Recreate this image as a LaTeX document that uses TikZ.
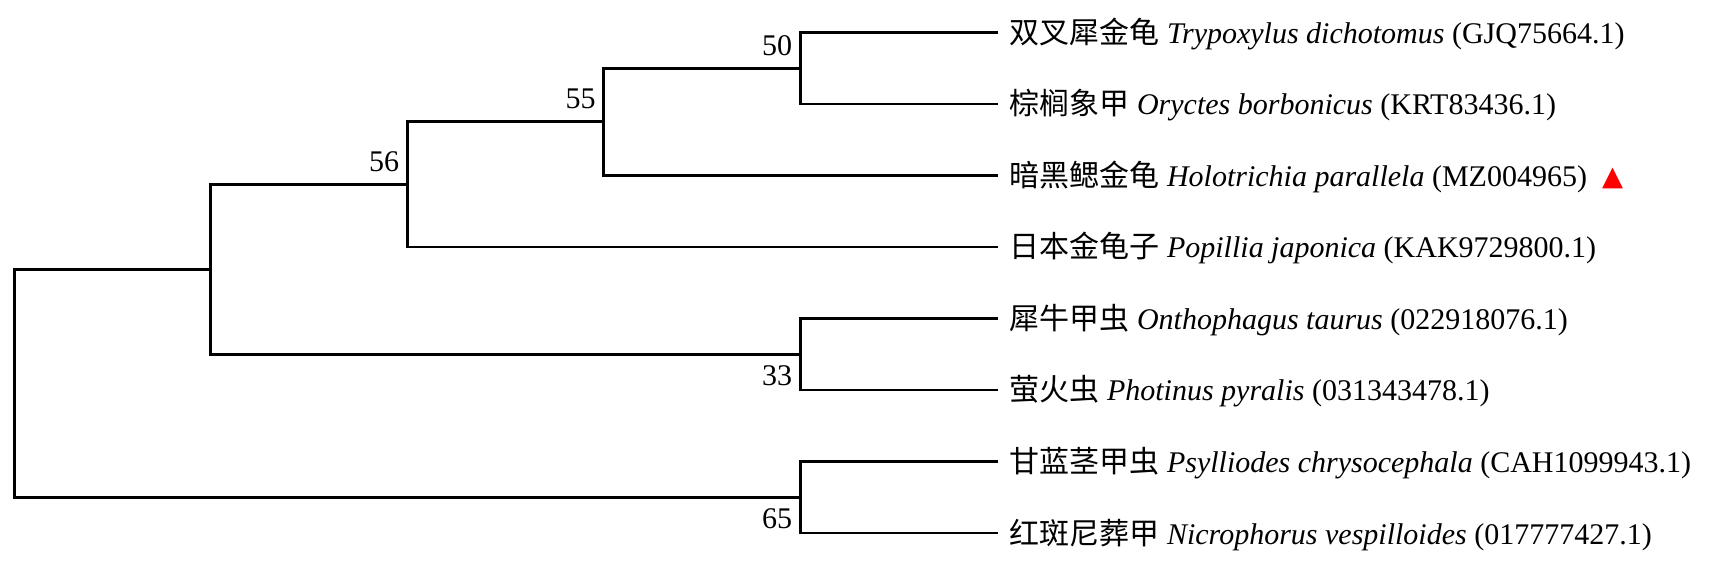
\documentclass[tikz,border=0pt]{standalone}
\usepackage{fontspec}
\setmainfont{Liberation Serif}
\newfontfamily\cjk{Noto Sans CJK SC}
\newfontfamily\symf{DejaVu Sans}
\begin{document}
\begin{tikzpicture}[x=0.75pt,y=-0.75pt,
  branch/.style={draw=black,line width=2.1pt,line join=miter},
  leaflab/.style={anchor=base west,inner sep=0pt,font=\fontsize{22.5}{27}\selectfont},
  boot/.style={anchor=base east,inner sep=0pt,font=\fontsize{22.5}{27}\selectfont},
  tri/.style={inner sep=0pt,text=red,font=\symf\fontsize{20.5}{24}\selectfont}]
\useasboundingbox (0,0) rectangle (1729,577);
% leaf ends
\coordinate (t1) at (998.3,32.5);
\coordinate (t2) at (998.3,104);
\coordinate (t3) at (998.3,175.5);
\coordinate (t4) at (998.3,247);
\coordinate (t5) at (998.3,318.5);
\coordinate (t6) at (998.3,390);
\coordinate (t7) at (998.3,461.5);
\coordinate (t8) at (998.3,533);
% internal nodes
\coordinate (n50) at (800.3,68.25);
\coordinate (n55) at (603.8,121.9);
\coordinate (n56) at (407.3,184.4);
\coordinate (n33) at (800.3,354.25);
\coordinate (nA) at (210.8,269.3);
\coordinate (n65) at (800.3,497.25);
\coordinate (root) at (14.3,383.3);
% branches
\draw[branch] (t1) -| (n50) |- (t2);
\draw[branch] (n50) -| (n55) |- (t3);
\draw[branch] (n55) -| (n56) |- (t4);
\draw[branch] (t5) -| (n33) |- (t6);
\draw[branch] (n56) -| (nA) |- (n33);
\draw[branch] (t7) -| (n65) |- (t8);
\draw[branch] (nA) -| (root) |- (n65);
% bootstrap values
\node[boot] (b50) at ([shift={(-8,-13)}]n50) {50};
\node[boot] (b55) at ([shift={(-8,-13)}]n55) {55};
\node[boot] (b56) at ([shift={(-8,-13)}]n56) {56};
\node[boot] (b33) at ([shift={(-8,31)}]n33) {33};
\node[boot] (b65) at ([shift={(-8,31)}]n65) {65};
% leaf labels
\node[leaflab] (l1) at ([shift={(11,11)}]t1) {{\cjk 双叉犀金龟} \textit{Trypoxylus dichotomus} (GJQ75664.1)};
\node[leaflab] (l2) at ([shift={(11,11)}]t2) {{\cjk 棕榈象甲} \textit{Oryctes borbonicus} (KRT83436.1)};
\node[leaflab] (l3) at ([shift={(11,11)}]t3) {{\cjk 暗黑鳃金龟} \textit{Holotrichia parallela} (MZ004965)};
\node[leaflab] (l4) at ([shift={(11,11)}]t4) {{\cjk 日本金龟子} \textit{Popillia japonica} (KAK9729800.1)};
\node[leaflab] (l5) at ([shift={(11,11)}]t5) {{\cjk 犀牛甲虫} \textit{Onthophagus taurus} (022918076.1)};
\node[leaflab] (l6) at ([shift={(11,11)}]t6) {{\cjk 萤火虫} \textit{Photinus pyralis} (031343478.1)};
\node[leaflab] (l7) at ([shift={(11,11)}]t7) {{\cjk 甘蓝茎甲虫} \textit{Psylliodes chrysocephala} (CAH1099943.1)};
\node[leaflab] (l8) at ([shift={(11,11)}]t8) {{\cjk 红斑尼葬甲} \textit{Nicrophorus vespilloides} (017777427.1)};
\node[tri] (mark) at (1612.5,178.5) {▲};
\end{tikzpicture}
\end{document}
